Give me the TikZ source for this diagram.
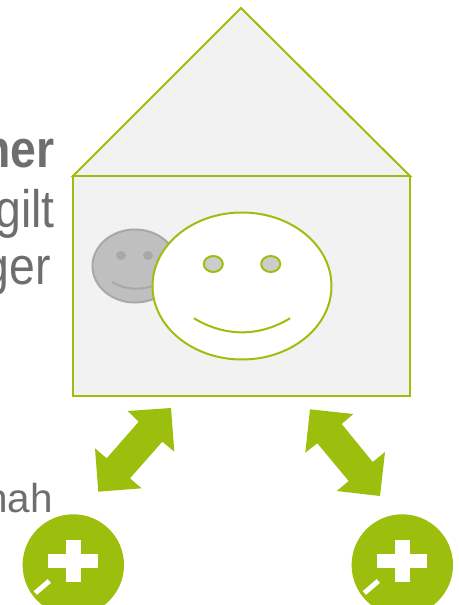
\documentclass[tikz,border=0pt]{standalone}
\usepackage{fontspec}
\setmainfont[FakeStretch=0.88]{Liberation Sans}
\newfontfamily\plainfont{Liberation Sans}
\definecolor{leaf}{HTML}{9BBF0C}
\definecolor{wall}{HTML}{F2F2F2}
\definecolor{shade}{HTML}{BFBFBF}
\definecolor{shadeline}{HTML}{A8A8A8}
\definecolor{words}{HTML}{6E6E70}
\tikzset{
  outline/.style={draw=leaf, line width=0.04cm},
  shadeface/.style={draw=shadeline, line width=0.04cm},
  words/.style={text=words, font=\fontsize{30}{30}\selectfont, anchor=base east, inner sep=0pt},
  blockarrow/.style={fill=leaf},
  badge/.style={fill=leaf},
  slit/.style={draw=white, line width=0.1cm}
}
\begin{document}
\begin{tikzpicture}[x=0.02cm, y=-0.02cm]
  \useasboundingbox (0,0) rectangle (459,605);
  % words left of the house
  \node[words, font=\fontsize{30}{30}\selectfont\bfseries] (ner) at (55,167) {ner};
  \node[words] (gilt) at (55,227) {gilt};
  \node[words] (ger) at (51,284) {ger};
  \node[words, font=\fontsize{23}{23}\plainfont] (nah) at (53,512) {nah};
  % house
  \draw[outline, fill=wall] (73,176) -- (241,8) -- (410,176) -- cycle;
  \draw[outline, fill=wall] (73,176) rectangle (410,396);
  % grey face
  \draw[shadeface, fill=shade] (135,266) ellipse (42.5 and 36.5);
  \fill[shadeline] (121,255.5) ellipse (5 and 4.5);
  \fill[shadeline] (148,255.5) ellipse (5 and 4.5);
  \draw[shadeface] (112,282) .. controls (125,290) and (142,291) .. (158,284);
  % green face
  \draw[outline, fill=white] (242,286) ellipse (89.5 and 73.5);
  \draw[outline, fill=shade!80] (213.3,264) ellipse (9.5 and 8);
  \draw[outline, fill=shade!80] (270.7,264) ellipse (9.5 and 8);
  \draw[outline] (194,318.3) .. controls (225,337) and (259,337) .. (290,318.3);
  % arrows
  \fill[blockarrow] (171,408) -- (174.3,451.7) -- (162.3,441.7) -- (130,478.3) -- (141.7,488.3)
    -- (98.3,491.7) -- (95,448.3) -- (106.7,458.3) -- (138.7,421.7) -- (127.7,411) -- cycle;
  \fill[blockarrow] (310,409.3) -- (353.3,414) -- (341.7,424) -- (372.7,462) -- (385,452)
    -- (380,496) -- (336.7,491) -- (348.7,481) -- (317.3,443.3) -- (305.3,452.7) -- cycle;
  % badges
  \foreach \bx in {73.3,402.3} {
    \begin{scope}[shift={(\bx,565)}]
      \fill[badge] (0,0) circle (50.7);
      \fill[white] (-25,-10.7) rectangle (24.4,2.7);
      \fill[white] (-7.6,-25) rectangle (7.4,17);
      \draw[slit] (-38,28) -- (-24,16);
    \end{scope}
  }
\end{tikzpicture}
\end{document}
